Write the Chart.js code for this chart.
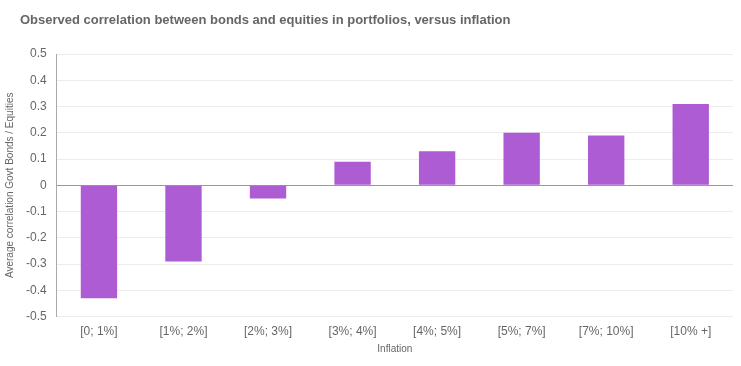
<!DOCTYPE html>
<html lang="en">
<head>
    <meta charset="UTF-8">
    <title>Bonds vs equities correlation</title>
    <script src="https://cdn.jsdelivr.net/npm/chart.js"></script>
    <style>
        body {
            margin: 0;
            background: #fff;
            font-family: Arial, "Liberation Sans", sans-serif;
        }
        #title {
            position: absolute;
            left: 20px;
            top: 12px;
            margin: 0;
            font-size: 13px;
            font-weight: bold;
            color: #666;
        }
        #wrap {
            width: 741px;
            height: 366px;
        }
    </style>
</head>
<body>
    <h1 id="title">Observed correlation between bonds and equities in portfolios, versus inflation</h1>
    <div id="wrap"><canvas id="chart"></canvas></div>
    <script>
        // Data
        var categories = ['[0; 1%]', '[1%; 2%]', '[2%; 3%]', '[3%; 4%]', '[4%; 5%]', '[5%; 7%]', '[7%; 10%]', '[10% +]'];
        var correlation = [-0.43, -0.29, -0.05, 0.09, 0.13, 0.20, 0.19, 0.31];

        Chart.defaults.font.family = 'Arial, "Liberation Sans", sans-serif';
        Chart.defaults.color = '#666';

        var ctx = document.getElementById('chart').getContext('2d');
        new Chart(ctx, {
            type: 'bar',
            data: {
                labels: categories,
                datasets: [{
                    label: 'Average correlation',
                    data: correlation,
                    backgroundColor: '#ad5cd3',
                    borderWidth: 0,
                    barPercentage: 0.43,
                    categoryPercentage: 1
                }]
            },
            options: {
                responsive: true,
                maintainAspectRatio: false,
                animation: false,
                layout: {
                    // top padding leaves room for the html title
                    padding: { left: 4, right: 8, top: 54, bottom: 11 }
                },
                plugins: {
                    legend: { display: false },
                    tooltip: { enabled: false }
                },
                scales: {
                    x: {
                        grid: { display: false, drawTicks: false },
                        border: { display: false },
                        ticks: { font: { size: 12 }, padding: 8 },
                        title: {
                            display: true,
                            text: 'Inflation',
                            font: { size: 10 },
                            padding: { top: -4, bottom: 0 }
                        }
                    },
                    y: {
                        min: -0.5,
                        max: 0.5,
                        ticks: {
                            stepSize: 0.1,
                            font: { size: 12 },
                            padding: 10,
                            callback: function (v) {
                                return Math.round(v * 10) / 10;
                            }
                        },
                        grid: {
                            drawTicks: false,
                            color: function (c) {
                                return c.tick && c.tick.value === 0 ? '#999' : '#ececec';
                            }
                        },
                        border: { color: '#aaa' },
                        title: {
                            display: true,
                            text: 'Average correlation Govt Bonds / Equities',
                            font: { size: 10 },
                            padding: { top: 0, bottom: 0 }
                        }
                    }
                }
            }
        });
    </script>
</body>
</html>
